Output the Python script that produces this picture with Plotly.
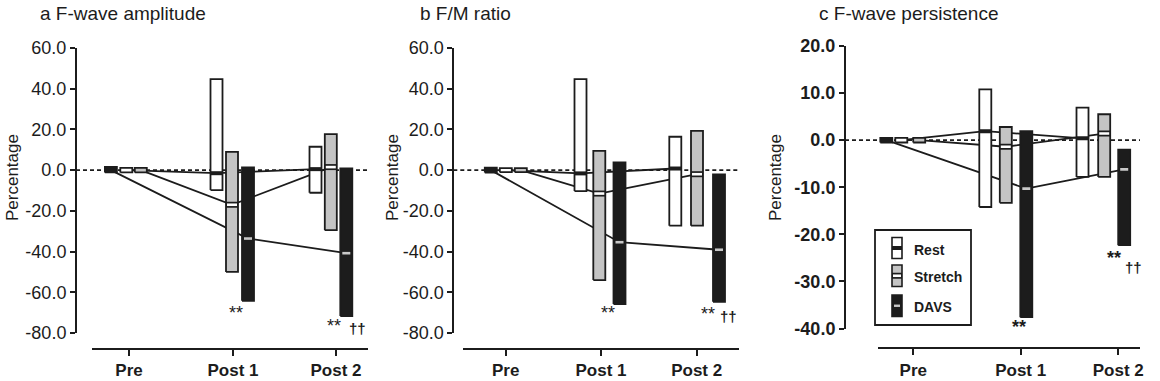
import plotly.graph_objects as go

W, H = 1160, 381

GROUPS = ["Pre", "Post 1", "Post 2"]
SERIES = ["Rest", "Stretch", "DAVS"]

# ---------------- data (percentage change; min, max, median) ----------------
# a  F-wave amplitude
AMP_REST_LO = [-1.1, -9.8, -11.1]
AMP_REST_HI = [1.1, 44.7, 11.5]
AMP_REST_MED = [0.0, -1.5, 0.5]
AMP_STRETCH_LO = [-1.1, -50.0, -29.5]
AMP_STRETCH_HI = [1.1, 9.0, 17.7]
AMP_STRETCH_MED = [0.0, -17.0, 1.5]
AMP_DAVS_LO = [-1.1, -64.2, -71.7]
AMP_DAVS_HI = [1.6, 1.3, 0.8]
AMP_DAVS_MED = [0.0, -33.6, -40.8]
# b  F/M ratio
FM_REST_LO = [-1.0, -10.3, -27.3]
FM_REST_HI = [1.0, 44.7, 16.4]
FM_REST_MED = [0.0, -1.6, 0.8]
FM_STRETCH_LO = [-1.0, -54.0, -27.3]
FM_STRETCH_HI = [1.0, 9.5, 19.3]
FM_STRETCH_MED = [0.0, -11.5, -2.0]
FM_DAVS_LO = [-1.2, -65.8, -64.7]
FM_DAVS_HI = [1.2, 3.8, -2.1]
FM_DAVS_MED = [0.0, -35.4, -39.1]
# c  F-wave persistence
PER_REST_LO = [-0.5, -14.2, -7.8]
PER_REST_HI = [0.5, 10.8, 6.9]
PER_REST_MED = [0.0, 1.9, 0.4]
PER_STRETCH_LO = [-0.5, -13.3, -7.8]
PER_STRETCH_HI = [0.5, 2.8, 5.5]
PER_STRETCH_MED = [0.0, -1.4, 1.4]
PER_DAVS_LO = [-0.5, -37.6, -22.3]
PER_DAVS_HI = [0.5, 1.9, -2.0]
PER_DAVS_MED = [0.0, -10.3, -6.2]

TITLES = ["a F-wave amplitude", "b F/M ratio", "c F-wave persistence"]
Y_TITLE = "Percentage"
SIG_DAVS = "**"
SIG_VS_STRETCH = "††"

DATA = [
    {"Rest": (AMP_REST_LO, AMP_REST_HI, AMP_REST_MED),
     "Stretch": (AMP_STRETCH_LO, AMP_STRETCH_HI, AMP_STRETCH_MED),
     "DAVS": (AMP_DAVS_LO, AMP_DAVS_HI, AMP_DAVS_MED)},
    {"Rest": (FM_REST_LO, FM_REST_HI, FM_REST_MED),
     "Stretch": (FM_STRETCH_LO, FM_STRETCH_HI, FM_STRETCH_MED),
     "DAVS": (FM_DAVS_LO, FM_DAVS_HI, FM_DAVS_MED)},
    {"Rest": (PER_REST_LO, PER_REST_HI, PER_REST_MED),
     "Stretch": (PER_STRETCH_LO, PER_STRETCH_HI, PER_STRETCH_MED),
     "DAVS": (PER_DAVS_LO, PER_DAVS_HI, PER_DAVS_MED)},
]

# ---------------- layout constants (pixels in the 1160x381 page) ----------------
PANELS = [
    dict(yax_px=76, x_px=(92, 368), tick_px=(129, 233, 336), ytop=48, ybot=333,
         yrange=(-80, 60), dtick=20, xax_py=348.5, bold_y=False,
         dodge={"Rest": [-2.7, -16.5, -20.5], "Stretch": [11.8, -1.0, -5.2],
                "DAVS": [-18.1, 15.0, 10.3]},
         title_px=(38, 13), ytitle_px=12,
         sig=[(SIG_DAVS, 236, 313), (SIG_DAVS, 334, 326), (SIG_VS_STRETCH, 357, 328)],
         sig_bold=False),
    dict(yax_px=453.3, x_px=(463, 739), tick_px=(505.7, 601, 696.7), ytop=48, ybot=333,
         yrange=(-80, 60), dtick=20, xax_py=348.5, bold_y=False,
         dodge={"Rest": [0.1, -20.5, -21.4], "Stretch": [15.1, -1.7, 0.3],
                "DAVS": [-14.9, 18.5, 22.3]},
         title_px=(418, 13), ytitle_px=392,
         sig=[(SIG_DAVS, 608, 313), (SIG_DAVS, 708, 314), (SIG_VS_STRETCH, 728, 316)],
         sig_bold=False),
    dict(yax_px=845, x_px=(878.3, 1140), tick_px=(913.3, 1020.7, 1118.3), ytop=46, ybot=328.5,
         yrange=(-40, 20), dtick=10, xax_py=348.3, bold_y=True,
         dodge={"Rest": [-12.0, -35.4, -35.8], "Stretch": [5.9, -14.9, -14.1],
                "DAVS": [-27.0, 5.6, 5.9]},
         title_px=(817, 13), ytitle_px=775,
         sig=[(SIG_DAVS, 1019, 327), (SIG_DAVS, 1114, 257.5), (SIG_VS_STRETCH, 1133, 267)],
         sig_bold=True),
]

BAR_W_PX = 12
FILL = {"Rest": "#ffffff", "Stretch": "#c4c4c4", "DAVS": "#1c1c1c"}
EDGE = {"Rest": "#1c1c1c", "Stretch": "#1c1c1c", "DAVS": "#1c1c1c"}
MEDC = {"Rest": "#1c1c1c", "Stretch": "#ffffff", "DAVS": "#c8c8c8"}
INK = "#1c1c1c"
FONT = "Liberation Sans, Arial, sans-serif"


def pxx(x):
    return x / W


def pxy(y):
    return 1 - y / H


fig = go.Figure()
layout = dict(template="none", width=W, height=H, margin=dict(l=0, r=0, t=0, b=0, pad=0),
              autosize=False, paper_bgcolor="white", plot_bgcolor="rgba(0,0,0,0)",
              showlegend=False, font=dict(family=FONT, color=INK))
shapes = []
annotations = []

for i, (P, D) in enumerate(zip(PANELS, DATA)):
    sx = "" if i == 0 else str(i + 1)
    xa, ya = "x" + sx, "y" + sx
    t0 = P["tick_px"][0]
    ppc = P["tick_px"][1] - P["tick_px"][0]          # pixels per category unit
    cat = [(t - t0) / ppc for t in P["tick_px"]]
    xr = [(P["x_px"][0] - t0) / ppc, (P["x_px"][1] - t0) / ppc]
    bw = BAR_W_PX / ppc
    centers = {s: [cat[g] + P["dodge"][s][g] / ppc for g in range(3)] for s in SERIES}

    # connecting lines of medians (underneath bars)
    for s in SERIES:
        fig.add_trace(go.Scatter(x=centers[s], y=D[s][2], mode="lines",
                                 line=dict(color=INK, width=1.8),
                                 xaxis=xa, yaxis=ya, hoverinfo="skip", cliponaxis=False))
    # range bars
    for s in SERIES:
        lo, hi, med = D[s]
        for g in range(3):
            x0, x1 = centers[s][g] - bw / 2, centers[s][g] + bw / 2
            fig.add_trace(go.Scatter(x=[x0, x1, x1, x0, x0], y=[lo[g], lo[g], hi[g], hi[g], lo[g]],
                                     mode="lines", fill="toself", fillcolor=FILL[s],
                                     line=dict(color=EDGE[s], width=1.8),
                                     xaxis=xa, yaxis=ya, hoverinfo="skip", cliponaxis=False))
    # median markers
    for s in SERIES:
        lo, hi, med = D[s]
        for g in range(3):
            if (hi[g] - lo[g]) < 4 * P["dtick"] / 20:
                continue
            c = centers[s][g]
            if s == "Stretch":
                fig.add_trace(go.Scatter(x=[c - bw / 2, c + bw / 2], y=[med[g], med[g]], mode="lines",
                                         line=dict(color=INK, width=6), xaxis=xa, yaxis=ya,
                                         hoverinfo="skip"))
                fig.add_trace(go.Scatter(x=[c - bw / 2 + 1 / ppc, c + bw / 2 - 1 / ppc],
                                         y=[med[g], med[g]], mode="lines",
                                         line=dict(color=MEDC[s], width=2.6), xaxis=xa, yaxis=ya,
                                         hoverinfo="skip"))
            elif s == "Rest":
                fig.add_trace(go.Scatter(x=[c - bw / 2, c + bw / 2], y=[med[g], med[g]], mode="lines",
                                         line=dict(color=MEDC[s], width=4), xaxis=xa, yaxis=ya,
                                         hoverinfo="skip"))
            else:
                fig.add_trace(go.Scatter(x=[c - bw / 2 + 2 / ppc, c + bw / 2 - 2 / ppc],
                                         y=[med[g], med[g]], mode="lines",
                                         line=dict(color=MEDC[s], width=2.6), xaxis=xa, yaxis=ya,
                                         hoverinfo="skip"))

    yt = list(range(P["yrange"][0], P["yrange"][1] + 1, P["dtick"]))
    layout["xaxis" + sx] = dict(domain=[pxx(P["x_px"][0]), pxx(P["x_px"][1])], range=xr,
                                anchor="free", position=pxy(P["xax_py"]), automargin=False,
                                showline=True, linewidth=2, linecolor=INK,
                                ticks="outside", ticklen=6, tickwidth=2, tickcolor=INK,
                                tickvals=cat, ticktext=GROUPS, showgrid=False, zeroline=False,
                                tickfont=dict(family=FONT, size=17, color=INK, weight="bold"),
                                fixedrange=True)
    layout["yaxis" + sx] = dict(domain=[pxy(P["ybot"]), pxy(P["ytop"])], range=list(P["yrange"]),
                                anchor="free", position=pxx(P["yax_px"]), automargin=False,
                                showline=True, linewidth=2, linecolor=INK,
                                ticks="outside", ticklen=5, tickwidth=2, tickcolor=INK,
                                tickvals=yt, ticktext=[f"{v:.1f}" for v in yt],
                                showgrid=False, zeroline=False,
                                tickfont=dict(family=FONT, size=18, color=INK,
                                              weight="bold" if P["bold_y"] else "normal"),
                                fixedrange=True)
    # dashed zero reference line
    shapes.append(dict(type="line", xref="paper", yref=ya, x0=pxx(P["yax_px"]), x1=pxx(P["x_px"][1]),
                       y0=0, y1=0, layer="below", line=dict(color=INK, width=1.6, dash="4px,3px")))
    # titles
    annotations.append(dict(text=TITLES[i], xref="paper", yref="paper", x=pxx(P["title_px"][0]),
                            y=pxy(P["title_px"][1]), xanchor="left", yanchor="middle",
                            showarrow=False, font=dict(family=FONT, size=19, color=INK)))
    annotations.append(dict(text=Y_TITLE, xref="paper", yref="paper", x=pxx(P["ytitle_px"]),
                            y=pxy(178), xanchor="center", yanchor="middle", textangle=-90,
                            showarrow=False, font=dict(family=FONT, size=17, color=INK)))
    for txt, sxp, syp in P["sig"]:
        is_dag = txt == SIG_VS_STRETCH
        annotations.append(dict(text=txt, xref="paper", yref="paper", x=pxx(sxp), y=pxy(syp),
                                xanchor="center", yanchor="middle", showarrow=False,
                                font=dict(family=FONT, size=15 if is_dag else 18, color=INK,
                                          weight="bold" if (P["sig_bold"] or is_dag) else "normal")))

# ---------------- legend (panel c) ----------------
LEG_BOX = (875, 230, 971, 325)
shapes.append(dict(type="rect", xref="paper", yref="paper", x0=pxx(LEG_BOX[0]), x1=pxx(LEG_BOX[2]),
                   y0=pxy(LEG_BOX[3]), y1=pxy(LEG_BOX[1]), line=dict(color=INK, width=1.8),
                   fillcolor="white", layer="above"))
SW_X = (892, 902)
SW_Y = {"Rest": (237.5, 258.5), "Stretch": (265, 286.5), "DAVS": (295, 316.5)}
for s in SERIES:
    y0, y1 = SW_Y[s]
    ym = (y0 + y1) / 2
    shapes.append(dict(type="rect", xref="paper", yref="paper", x0=pxx(SW_X[0]), x1=pxx(SW_X[1]),
                       y0=pxy(y1), y1=pxy(y0), fillcolor=FILL[s],
                       line=dict(color=EDGE[s], width=1.6), layer="above"))
    if s == "Rest":
        shapes.append(dict(type="rect", xref="paper", yref="paper", x0=pxx(SW_X[0]), x1=pxx(SW_X[1]),
                           y0=pxy(ym + 2), y1=pxy(ym - 2), fillcolor=INK, line=dict(width=0), layer="above"))
    elif s == "Stretch":
        shapes.append(dict(type="rect", xref="paper", yref="paper", x0=pxx(SW_X[0]), x1=pxx(SW_X[1]),
                           y0=pxy(ym + 3), y1=pxy(ym - 3), fillcolor=INK, line=dict(width=0), layer="above"))
        shapes.append(dict(type="rect", xref="paper", yref="paper", x0=pxx(SW_X[0] + 1), x1=pxx(SW_X[1] - 1),
                           y0=pxy(ym + 1.3), y1=pxy(ym - 1.3), fillcolor="white", line=dict(width=0),
                           layer="above"))
    else:
        shapes.append(dict(type="rect", xref="paper", yref="paper", x0=pxx(SW_X[0] + 2), x1=pxx(SW_X[1] - 2),
                           y0=pxy(ym + 1.2), y1=pxy(ym - 1.2), fillcolor=MEDC[s], line=dict(width=0),
                           layer="above"))
    annotations.append(dict(text=s, xref="paper", yref="paper", x=pxx(912), y=pxy(ym + 1.5),
                            xanchor="left", yanchor="middle", showarrow=False,
                            font=dict(family=FONT, size=14, color=INK, weight="bold")))

layout["shapes"] = shapes
layout["annotations"] = annotations
fig.update_layout(**layout)
# remove the browser's default 8px body margin so the figure fills the window exactly
fig.write_html("out.html", config={"displayModeBar": False, "staticPlot": True},
               post_script="document.body.style.margin='0';document.body.style.overflow='hidden';")
